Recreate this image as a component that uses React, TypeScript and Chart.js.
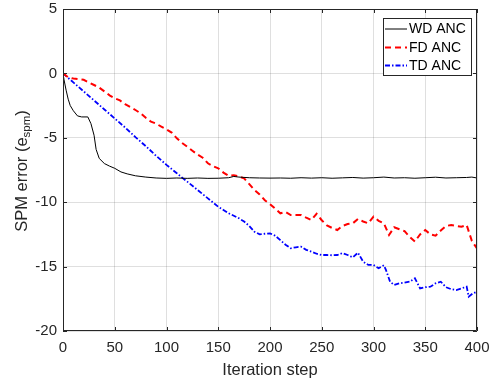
import React, { useEffect, useRef } from "react";
import { Chart, registerables } from "chart.js";

Chart.register(...registerables);

// ---- Data ----
const wdSteps = [0, 1, 3, 5, 7, 10, 14, 18, 24, 27, 30, 32, 35, 40, 45, 50, 56, 62, 70, 80, 90, 100, 110, 120, 130, 140, 150, 160, 165, 170, 180, 190, 200, 210, 220, 230, 240, 250, 260, 270, 280, 290, 300, 310, 320, 330, 340, 350, 360, 370, 380, 390, 395, 400];
const wdValues = [0, -0.5, -1.3, -2.0, -2.5, -2.9, -3.3, -3.38, -3.38, -3.9, -4.8, -5.9, -6.6, -7.0, -7.2, -7.37, -7.65, -7.8, -7.95, -8.05, -8.12, -8.15, -8.12, -8.15, -8.12, -8.15, -8.14, -8.1, -8.0, -8.05, -8.1, -8.12, -8.13, -8.12, -8.14, -8.1, -8.13, -8.1, -8.14, -8.11, -8.08, -8.13, -8.1, -8.05, -8.12, -8.1, -8.14, -8.1, -8.06, -8.12, -8.1, -8.08, -8.05, -8.12];

const fdSteps = [0, 5, 10, 15, 20, 25, 30, 35, 40, 45, 50, 55, 60, 65, 70, 75, 80, 85, 90, 95, 100, 105, 110, 115, 120, 125, 130, 135, 140, 145, 150, 155, 160, 165, 170, 175, 180, 185, 190, 195, 200, 205, 210, 215, 220, 225, 230, 235, 240, 245, 250, 255, 260, 265, 270, 275, 280, 285, 290, 295, 300, 305, 310, 315, 320, 325, 330, 335, 340, 345, 350, 355, 360, 365, 370, 375, 380, 385, 390, 395, 400];
const fdValues = [0, -0.3, -0.4, -0.45, -0.5, -0.7, -0.9, -1.1, -1.4, -1.7, -1.93, -2.1, -2.38, -2.6, -2.84, -3.1, -3.45, -3.75, -3.9, -4.14, -4.35, -4.6, -5.04, -5.4, -5.69, -6.0, -6.3, -6.55, -6.98, -7.2, -7.37, -7.7, -7.95, -7.9, -8.0, -8.15, -8.6, -9.05, -9.4, -9.85, -10.15, -10.5, -10.86, -10.75, -11.0, -11.0, -11.0, -11.2, -11.38, -10.9, -11.4, -11.8, -12.0, -12.16, -11.85, -11.7, -11.64, -11.3, -11.5, -11.64, -11.12, -11.45, -11.64, -12.55, -11.95, -12.1, -12.25, -12.7, -13.05, -12.5, -12.16, -12.5, -12.6, -12.2, -11.85, -11.77, -11.85, -11.9, -11.77, -13.0, -13.6];

const tdSteps = [0, 10, 20, 30, 40, 50, 60, 70, 80, 90, 100, 110, 116, 120, 130, 140, 150, 155, 160, 165, 170, 175, 180, 185, 190, 195, 200, 205, 210, 215, 220, 225, 230, 235, 240, 245, 250, 255, 260, 265, 270, 275, 280, 285, 290, 295, 300, 305, 310, 312, 316, 320, 325, 330, 335, 340, 345, 350, 355, 360, 365, 370, 375, 380, 385, 390, 392, 396, 400];
const tdValues = [0, -0.7, -1.4, -2.1, -2.8, -3.5, -4.2, -4.95, -5.65, -6.4, -7.1, -7.75, -8.15, -8.4, -9.05, -9.7, -10.35, -10.6, -10.86, -11.05, -11.25, -11.5, -11.85, -12.29, -12.5, -12.45, -12.42, -12.6, -12.94, -13.3, -13.58, -13.5, -13.45, -13.7, -13.84, -14.0, -14.1, -14.1, -14.12, -14.1, -13.95, -14.1, -14.28, -13.92, -14.62, -14.87, -14.87, -15.13, -14.9, -15.26, -16.17, -16.43, -16.3, -16.25, -16.17, -15.91, -16.69, -16.6, -16.56, -16.3, -16.17, -16.6, -16.75, -16.82, -16.69, -16.56, -17.34, -17.08, -16.95];

const seriesNames = ["WD ANC", "FD ANC", "TD ANC"];
const xTicks = [0, 50, 100, 150, 200, 250, 300, 350, 400];
const yTicks = [5, 0, -5, -10, -15, -20];
const xTitle = "Iteration step";
const yTitleMain = "SPM error (e";
const yTitleSub = "spm";
const yTitleEnd = ")";

const FONT = "'Liberation Sans', Arial, sans-serif";
const AXIS_COLOR = "#262626";

const styles = [
  { color: "#000000", width: 1, dash: [] as number[] },
  { color: "#ff0000", width: 2, dash: [6, 4] },
  { color: "#0000ff", width: 1.8, dash: [5, 2, 1.5, 2] },
];

function toPoints(xs: number[], ys: number[]) {
  return xs.map((x, i) => ({ x, y: ys[i] }));
}

function zeroPad(s: any) {
  s.paddingLeft = 0;
  s.paddingRight = 0;
  s.paddingTop = 0;
  s.paddingBottom = 0;
}

const decorPlugin = {
  id: "decor",
  afterDatasetsDraw(chart: any) {
    const ctx = chart.ctx as CanvasRenderingContext2D;
    const { left, right, top, bottom } = chart.chartArea;
    const xs = chart.scales.x;
    const ys = chart.scales.y;
    ctx.save();
    // box
    ctx.strokeStyle = AXIS_COLOR;
    ctx.lineWidth = 1;
    ctx.setLineDash([]);
    ctx.beginPath();
    ctx.rect(left + 0.5, top + 0.5, right - left - 1, bottom - top - 1);
    ctx.stroke();
    // inward ticks
    const tl = 4;
    ctx.beginPath();
    xTicks.forEach((v) => {
      const px = Math.round(xs.getPixelForValue(v)) + 0.5;
      ctx.moveTo(px, bottom);
      ctx.lineTo(px, bottom - tl);
      ctx.moveTo(px, top);
      ctx.lineTo(px, top + tl);
    });
    yTicks.forEach((v) => {
      const py = Math.round(ys.getPixelForValue(v)) + 0.5;
      ctx.moveTo(left, py);
      ctx.lineTo(left + tl, py);
      ctx.moveTo(right, py);
      ctx.lineTo(right - tl, py);
    });
    ctx.stroke();

    // legend
    const lx = 383, ly = 18, lw = 89, lh = 58;
    ctx.fillStyle = "#ffffff";
    ctx.fillRect(lx, ly, lw, lh);
    ctx.strokeStyle = AXIS_COLOR;
    ctx.strokeRect(lx + 0.5, ly + 0.5, lw - 1, lh - 1);
    const rows = [29, 47.5, 65.5];
    ctx.font = `14px ${FONT}`;
    ctx.textBaseline = "middle";
    ctx.textAlign = "left";
    seriesNames.forEach((name, i) => {
      const s = styles[i];
      ctx.strokeStyle = s.color;
      ctx.lineWidth = s.width;
      ctx.setLineDash(s.dash);
      ctx.beginPath();
      ctx.moveTo(385, rows[i]);
      ctx.lineTo(407, rows[i]);
      ctx.stroke();
      ctx.setLineDash([]);
      ctx.fillStyle = "#000000";
      ctx.fillText(name, 409, rows[i] + 0.5);
    });

    // axis titles
    ctx.fillStyle = AXIS_COLOR;
    ctx.font = `16.5px ${FONT}`;
    ctx.textAlign = "center";
    ctx.textBaseline = "middle";
    ctx.fillText(xTitle, (left + right) / 2, 370);

    // y title with subscript
    ctx.save();
    ctx.translate(22, 171);
    ctx.rotate(-Math.PI / 2);
    const mainFont = `16.5px ${FONT}`;
    const subFont = `11.5px ${FONT}`;
    ctx.font = mainFont;
    const w1 = ctx.measureText(yTitleMain).width;
    const w3 = ctx.measureText(yTitleEnd).width;
    ctx.font = subFont;
    const w2 = ctx.measureText(yTitleSub).width;
    const total = w1 + w2 + w3;
    let x0 = -total / 2;
    ctx.textAlign = "left";
    ctx.textBaseline = "middle";
    ctx.font = mainFont;
    ctx.fillText(yTitleMain, x0, 0);
    x0 += w1;
    ctx.font = subFont;
    ctx.fillText(yTitleSub, x0, 5);
    x0 += w2;
    ctx.font = mainFont;
    ctx.fillText(yTitleEnd, x0, 0);
    ctx.restore();

    ctx.restore();
  },
};

export default function App() {
  const ref = useRef<HTMLCanvasElement | null>(null);
  useEffect(() => {
    if (!ref.current) return;
    const series = [
      toPoints(wdSteps, wdValues),
      toPoints(fdSteps, fdValues),
      toPoints(tdSteps, tdValues),
    ];
    const chart = new Chart(ref.current, {
      type: "line",
      data: {
        datasets: series.map((pts, i) => ({
          label: seriesNames[i],
          data: pts,
          borderColor: styles[i].color,
          borderWidth: styles[i].width,
          borderDash: styles[i].dash,
          pointRadius: 0,
          tension: 0,
          fill: false,
        })),
      },
      options: {
        animation: false,
        responsive: false,
        events: [],
        layout: { padding: { top: 9, right: 14, left: 0, bottom: 0 } },
        plugins: { legend: { display: false }, tooltip: { enabled: false } },
        scales: {
          x: {
            type: "linear",
            min: 0,
            max: 400,
            afterFit: (s: any) => { s.height = 56; zeroPad(s); },
            afterBuildTicks: (s: any) => { s.ticks = xTicks.map((v) => ({ value: v })); },
            ticks: {
              color: AXIS_COLOR,
              font: { family: FONT, size: 15 },
              padding: 8,
              maxRotation: 0,
              autoSkip: false,
            },
            grid: { color: "rgba(38,38,38,0.15)", drawTicks: false, lineWidth: 1 },
            border: { display: false },
          },
          y: {
            type: "linear",
            min: -20,
            max: 5,
            afterFit: (s: any) => { s.width = 63; zeroPad(s); },
            afterBuildTicks: (s: any) => { s.ticks = yTicks.map((v) => ({ value: v })); },
            ticks: {
              color: AXIS_COLOR,
              font: { family: FONT, size: 15 },
              padding: 6,
              autoSkip: false,
            },
            grid: { color: "rgba(38,38,38,0.15)", drawTicks: false, lineWidth: 1 },
            border: { display: false },
          },
        },
      },
      plugins: [decorPlugin],
    });
    return () => chart.destroy();
  }, []);
  return (
    <div style={{ position: "absolute", left: 0, top: 0, width: 491, height: 387, background: "#fff" }}>
      <canvas ref={ref} width={491} height={387} style={{ display: "block" }} />
    </div>
  );
}
